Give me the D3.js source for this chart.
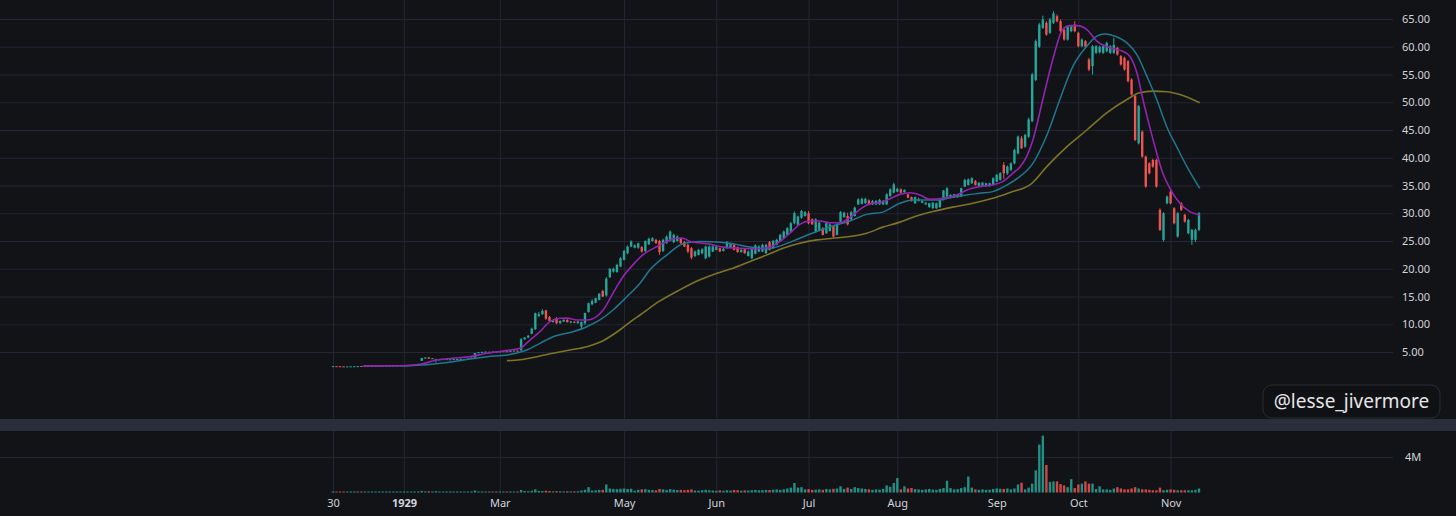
<!DOCTYPE html>
<html>
<head>
<meta charset="utf-8">
<script src="https://cdn.jsdelivr.net/npm/d3@7"></script>
<style>
  html, body { margin: 0; padding: 0; background: #121317; overflow: hidden; }
  svg { display: block; }
  text { font-family: "Noto Sans", "Open Sans", sans-serif; }
</style>
</head>
<body>
<div id="chart"></div>
<script>
// bar data, one row per session: [open, high, low, close]
const ohlc = [
  [2.44,2.46,2.42,2.45],[2.45,2.46,2.43,2.44],[2.43,2.44,2.40,2.42],[2.41,2.42,2.38,2.40],[2.40,2.42,2.38,2.41],
  [2.40,2.42,2.39,2.42],[2.42,2.44,2.41,2.43],[2.44,2.46,2.42,2.45],[2.48,2.50,2.44,2.45],[2.46,2.50,2.45,2.49],
  [2.49,2.51,2.47,2.50],[2.50,2.52,2.48,2.51],[2.50,2.52,2.49,2.51],[2.51,2.53,2.50,2.52],[2.51,2.53,2.50,2.52],
  [2.52,2.54,2.50,2.53],[2.52,2.54,2.51,2.53],[2.53,2.55,2.51,2.54],[2.53,2.56,2.52,2.55],[2.55,2.57,2.53,2.56],
  [2.56,2.58,2.54,2.57],[2.57,2.60,2.55,2.59],[2.59,2.62,2.57,2.61],[2.61,2.66,2.60,2.65],[2.66,2.72,2.64,2.70],
  [3.40,3.95,3.38,3.90],[3.88,4.05,3.85,4.00],[4.02,4.08,3.78,3.82],[3.82,3.92,3.78,3.88],[3.50,3.78,3.08,3.70],
  [3.62,3.70,3.58,3.66],[3.64,3.72,3.60,3.70],[3.68,3.78,3.62,3.72],[3.66,3.72,3.60,3.68],[3.68,3.76,3.64,3.72],
  [3.70,3.76,3.66,3.73],[3.72,3.80,3.68,3.76],[3.72,3.78,3.68,3.74],[3.74,3.84,3.70,3.80],[3.80,4.02,3.78,3.98],
  [3.96,4.85,3.92,4.80],[4.85,5.00,4.80,4.95],[4.95,5.05,4.90,5.02],[5.00,5.10,4.96,5.05],[5.02,5.08,4.96,5.00],
  [5.00,5.10,4.98,5.06],[5.04,5.10,4.98,5.02],[5.04,5.14,5.00,5.10],[5.10,5.18,5.06,5.15],[5.14,5.18,5.04,5.08],
  [5.10,5.24,5.06,5.20],[5.18,5.30,5.14,5.26],[5.24,5.30,5.16,5.20],[5.30,7.50,5.25,7.30],[7.30,7.70,7.20,7.60],
  [7.60,8.00,7.50,7.95],[8.30,9.40,8.20,9.20],[9.10,12.10,9.00,12.00],[11.50,12.20,11.30,11.80],[11.80,12.70,11.70,12.40],
  [12.50,12.60,10.80,11.00],[11.30,11.50,10.40,10.60],[10.40,10.80,10.30,10.70],[11.10,11.30,10.00,10.20],[10.20,10.70,10.10,10.60],
  [10.50,10.90,10.40,10.80],[10.80,10.90,10.30,10.40],[10.30,10.60,10.20,10.50],[10.45,10.55,10.20,10.30],[10.20,10.60,10.10,10.50],
  [9.60,10.50,9.00,10.40],[10.20,12.10,9.90,12.00],[12.20,13.90,12.10,13.80],[13.60,14.50,13.40,14.20],[13.90,14.80,13.80,14.70],
  [14.40,15.60,14.30,15.50],[16.00,16.20,14.90,15.00],[15.20,18.50,15.00,18.20],[18.50,20.10,18.30,20.00],[19.50,20.20,19.30,20.00],
  [19.40,20.90,19.30,20.70],[20.40,22.10,20.30,21.90],[21.60,23.40,21.50,23.20],[22.80,24.20,22.60,24.00],[24.00,25.10,23.90,24.90],
  [23.80,24.40,23.70,24.20],[23.80,24.70,23.60,24.60],[23.90,24.10,22.90,23.10],[23.20,25.10,23.00,25.00],[24.40,25.60,24.30,25.40],
  [25.00,25.70,24.90,25.50],[25.20,25.40,24.50,24.60],[25.00,25.20,22.50,23.00],[23.20,25.40,23.00,25.20],[24.60,26.00,24.50,25.80],
  [25.00,26.90,24.90,26.70],[24.80,26.30,24.60,26.10],[25.00,26.00,24.90,25.80],[25.50,25.70,24.50,24.60],[24.80,25.00,23.90,24.00],
  [24.30,24.50,22.80,23.10],[23.70,23.90,21.70,22.00],[22.30,23.30,22.10,23.10],[22.50,23.60,22.40,23.40],[22.80,23.70,22.60,23.50],
  [21.90,24.20,21.70,24.00],[22.20,24.20,22.00,24.00],[23.10,24.20,23.00,24.00],[23.40,24.10,23.30,24.00],[23.70,23.80,23.00,23.10],
  [23.20,23.80,23.10,23.60],[23.70,25.00,23.60,24.80],[23.90,24.70,23.80,24.50],[24.30,24.50,23.30,23.40],[23.90,24.00,22.90,23.00],
  [23.00,23.60,22.90,23.40],[23.50,23.60,22.70,22.80],[22.30,23.30,22.20,23.10],[21.90,23.90,21.70,23.70],[22.70,24.40,22.60,24.20],
  [23.10,24.20,23.00,24.00],[23.10,24.50,23.00,24.30],[22.80,24.50,22.70,24.30],[24.80,25.00,23.30,23.40],[23.70,25.20,23.60,25.00],
  [24.30,25.40,24.20,25.20],[25.00,26.30,24.90,26.10],[25.50,26.90,25.40,26.70],[26.10,27.50,26.00,27.30],[26.70,28.40,26.60,28.20],
  [28.20,30.30,28.00,30.00],[27.90,29.60,27.80,29.40],[29.20,30.60,29.00,30.40],[29.50,30.40,29.40,30.20],[30.00,30.40,28.00,28.20],
  [28.90,29.10,27.90,28.00],[26.70,29.10,26.50,28.90],[27.00,28.50,26.90,28.30],[27.30,27.50,26.00,26.10],[26.40,28.40,26.30,28.20],
  [26.80,28.20,26.70,28.00],[27.70,27.90,25.60,25.80],[26.10,28.20,26.00,28.00],[28.50,30.40,28.40,30.20],[29.30,30.30,29.20,30.10],
  [29.50,30.10,27.80,28.00],[28.90,30.40,28.80,30.20],[29.50,31.20,29.40,31.00],[31.60,32.70,31.50,32.50],[31.70,32.80,31.60,32.60],
  [31.80,32.80,31.70,32.60],[32.30,32.50,31.40,31.60],[31.60,32.40,31.50,32.20],[31.60,32.40,31.50,32.20],[31.60,32.60,31.50,32.40],
  [31.60,32.40,31.50,32.20],[31.60,33.60,31.50,33.40],[33.10,34.50,33.00,34.30],[33.70,35.50,33.60,35.20],[33.90,34.60,33.80,34.40],
  [34.30,34.50,33.60,33.70],[33.80,34.30,33.70,34.20],[33.40,33.50,32.70,32.80],[32.90,33.00,32.10,32.20],[31.80,33.00,31.70,32.90],
  [32.20,32.80,32.10,32.60],[31.90,32.30,31.80,32.20],[31.60,32.00,31.50,31.90],[31.10,31.90,31.00,31.80],[30.90,32.00,30.80,31.90],
  [30.90,31.90,30.80,31.80],[31.10,32.50,31.00,32.40],[32.40,34.20,32.30,34.10],[33.00,34.70,32.90,34.50],[32.90,33.40,32.80,33.30],
  [32.90,33.50,32.80,33.40],[32.90,33.50,32.80,33.40],[33.00,34.60,32.90,34.50],[34.80,36.20,34.70,36.00],[35.10,36.30,35.00,36.10],
  [35.40,36.50,35.30,36.30],[35.80,36.00,35.00,35.10],[34.90,35.60,34.80,35.50],[34.90,35.60,34.80,35.50],[34.90,35.50,34.80,35.40],
  [34.90,35.50,34.80,35.40],[35.10,36.50,35.00,36.30],[35.70,37.10,35.60,36.90],[36.00,37.40,35.90,37.20],[38.70,39.20,36.20,37.20],
  [37.20,38.60,36.90,38.40],[37.80,39.20,37.60,39.00],[39.00,41.60,38.80,41.40],[40.80,44.00,40.60,43.80],[43.50,43.90,41.60,41.70],
  [42.00,44.30,41.80,44.10],[43.80,47.20,43.60,46.90],[46.60,55.30,46.40,55.00],[54.00,61.30,53.80,61.00],[60.00,64.30,59.80,64.00],
  [63.40,65.60,63.20,64.90],[64.30,64.60,62.00,62.20],[62.50,65.20,62.30,64.90],[64.30,66.40,64.10,66.00],[65.50,65.80,64.40,64.60],
  [64.60,64.90,62.60,62.80],[63.00,63.20,61.10,61.30],[61.30,63.90,61.10,63.70],[62.80,63.90,62.60,63.70],[64.00,64.60,62.60,62.80],
  [62.50,62.70,59.90,60.10],[60.10,61.50,59.90,61.30],[61.00,61.20,59.80,60.00],[57.70,58.00,55.60,55.90],[56.50,60.30,55.00,60.10],
  [58.90,60.30,58.70,60.10],[59.00,60.20,58.80,60.00],[58.90,60.30,58.70,60.10],[59.20,60.90,59.00,60.70],[58.90,60.30,58.70,60.10],
  [58.90,61.60,58.70,60.30],[59.80,60.00,58.40,58.60],[58.30,58.50,56.60,56.80],[58.00,58.20,55.70,55.90],[57.40,57.60,53.60,53.80],
  [54.10,54.30,51.20,51.40],[51.10,51.30,43.00,43.20],[42.60,49.50,42.40,49.30],[44.70,44.90,40.00,40.20],[40.20,40.40,34.60,34.80],
  [39.00,39.20,37.00,37.20],[39.60,39.80,38.20,38.40],[39.60,39.80,34.60,34.80],[30.60,30.90,26.80,27.00],[25.20,30.20,24.90,30.00],
  [31.80,33.20,31.60,33.00],[33.90,34.10,31.60,31.80],[30.90,31.10,28.00,28.20],[25.80,30.20,25.60,30.00],[31.80,32.00,30.40,30.60],
  [29.70,29.90,28.30,28.50],[26.40,29.00,26.20,28.80],[25.20,27.20,24.30,27.00],[25.20,27.20,24.80,27.00],[27.00,30.20,26.80,30.00]
];

// volume per session, millions of shares
const volumes = [
  0.08,0.07,0.09,0.08,0.06,0.08,0.07,0.09,0.10,0.08,
  0.07,0.08,0.06,0.07,0.08,0.07,0.08,0.09,0.07,0.08,
  0.08,0.09,0.10,0.10,0.12,0.18,0.12,0.14,0.10,0.15,
  0.09,0.10,0.08,0.09,0.10,0.08,0.09,0.10,0.09,0.12,
  0.22,0.12,0.10,0.09,0.10,0.08,0.10,0.09,0.10,0.11,
  0.12,0.10,0.11,0.28,0.16,0.14,0.20,0.35,0.18,0.16,
  0.20,0.16,0.12,0.15,0.13,0.12,0.14,0.12,0.13,0.14,
  0.22,0.30,0.60,0.22,0.25,0.28,0.30,0.90,0.45,0.40,
  0.38,0.42,0.45,0.40,0.42,0.20,0.30,0.35,0.38,0.30,
  0.28,0.25,0.40,0.35,0.30,0.38,0.32,0.28,0.30,0.26,
  0.30,0.35,0.22,0.20,0.25,0.30,0.25,0.22,0.20,0.24,
  0.20,0.25,0.22,0.28,0.26,0.20,0.24,0.22,0.25,0.28,
  0.24,0.26,0.30,0.28,0.32,0.35,0.30,0.36,0.45,0.55,
  1.07,0.55,0.60,0.35,0.38,0.30,0.32,0.35,0.30,0.40,
  0.35,0.42,0.45,0.70,0.40,0.55,0.40,0.60,0.50,0.45,
  0.40,0.35,0.30,0.35,0.32,0.40,0.80,0.65,1.07,1.63,
  0.35,0.70,0.45,0.50,0.38,0.35,0.30,0.35,0.40,0.32,
  0.30,0.40,0.50,1.33,0.50,0.35,0.38,0.50,0.60,1.80,
  0.55,0.35,0.30,0.35,0.30,0.32,0.40,0.45,0.42,0.40,
  0.45,0.35,0.45,0.90,1.10,0.35,0.55,1.00,2.50,5.40,
  6.40,3.10,1.20,1.25,1.25,0.95,0.80,0.60,1.50,0.50,
  0.90,1.00,1.25,1.00,1.00,0.40,0.70,0.35,0.35,0.30,
  0.45,0.60,0.45,0.35,0.35,0.45,0.60,0.45,0.35,0.35,
  0.30,0.25,0.25,0.55,0.25,0.30,0.35,0.30,0.25,0.25,
  0.25,0.25,0.25,0.30,0.45
];

// moving averages: [bar index, value]
const maFast = [
  [8.5,2.50],[19.7,2.52],[24.5,2.78],[29.3,3.56],[33.8,3.86],[38.6,4.16],[43.4,4.76],[47.9,5.18],
  [52.7,5.66],[55.5,7.16],[58.3,8.66],[61.1,10.46],[63.9,11.07],[65.9,11.1],[68.7,10.77],[71.5,10.77],
  [73.2,11.0],[76.1,12.57],[78.9,15.6],[81.7,18.57],[84.5,20.7],[87.3,22.5],[91.3,24.0],[94.1,24.9],
  [96.9,25.5],[98.6,25.5],[100.6,24.9],[105.4,24.5],[109.9,23.9],[114.6,23.7],[119.4,23.6],[123.1,23.9],
  [125.9,24.9],[128.7,26.4],[131.5,28.0],[134.4,28.6],[137.2,28.6],[140,28.3],[142.8,28.3],[145.6,29.2],
  [148.5,30.7],[151.3,31.7],[154.1,31.9],[156.9,32.6],[159.7,33.4],[162.5,33.7],[165.4,33.3],[168.2,32.5],
  [171.8,32.7],[175.8,33.3],[178.6,34.2],[182.3,34.8],[185.9,35.1],[188.7,35.7],[191.5,37.2],[193.5,38.3],
  [195.5,40.3],[197.2,43.2],[200,50.5],[202.8,57.7],[205.6,63.1],[207.6,63.8],[209.6,63.8],[212.4,63.1],
  [215.2,61.0],[218.9,59.8],[222.5,59.2],[224.5,58.3],[226.5,55.3],[228.2,50.5],[230.1,45.6],[232.1,40.8],
  [233.8,37.2],[235.8,34.5],[238.6,31.8],[241.4,30.3],[244.2,29.7]
];
const maMid = [
  [18.9,2.50],[24.5,2.65],[33.8,3.26],[43.4,4.16],[49,4.46],[54.6,5.36],[58.3,6.56],[62,7.76],
  [67.6,8.66],[71.5,9.56],[75.2,10.77],[78.9,12.57],[82.8,14.96],[86.5,17.4],[89.3,19.8],[94.1,22.5],
  [98.6,24.5],[103.4,24.9],[108.2,24.8],[112.7,24.5],[117.5,23.9],[122.3,23.6],[126.8,24.3],[131.5,25.5],
  [136.3,26.7],[140.8,27.7],[145.6,28.6],[150.4,29.8],[154.9,30.2],[159.7,31.8],[163.4,32.4],[167.3,32.4],
  [171,32.4],[174.6,32.9],[178.6,33.3],[182.3,33.6],[185.9,33.9],[189.9,35.1],[193.5,36.6],[197.2,39.0],
  [201.1,44.0],[204.8,50.5],[208.5,56.5],[212.4,60.1],[215.2,61.9],[217.5,62.3],[220.3,61.9],[223.7,60.7],
  [226.5,58.6],[229.3,54.7],[232.1,50.5],[234.9,45.6],[237.7,42.0],[240.6,38.4],[244.2,34.5]
];
const maSlow = [
  [49,3.44],[52.7,3.6],[57.5,4.16],[62,4.76],[66.8,5.36],[71.5,5.96],[76.1,7.04],[80.8,8.96],
  [84.5,10.77],[86.5,11.67],[92.1,14.2],[97.7,16.2],[103.4,18.0],[108.2,19.2],[112.7,20.1],[117.5,21.3],
  [122.3,22.5],[126.8,23.7],[131.5,24.6],[136.3,25.2],[140.8,25.5],[145.6,25.8],[150.4,26.4],[154.9,27.5],
  [159.7,28.4],[163.4,29.3],[169,30.3],[174.6,31.1],[180.3,31.8],[185.9,32.7],[191.5,33.9],[195.5,34.8],
  [196.9,35.4],[201.1,38.4],[206.8,42.0],[212.4,45.0],[218,48.1],[223.7,50.5],[227.3,51.7],[231,52.0],
  [234.9,51.9],[238.6,51.4],[244.2,49.9]
];

// axis ticks
const priceTicks = [5,10,15,20,25,30,35,40,45,50,55,60,65];
const volumeTicks = [4];
const monthTickBars = [0, 20, 47, 82, 108, 134, 159, 187, 210, 236];
const monthTickLabels = ["30", "1929", "Mar", "May", "Jun", "Jul", "Aug", "Sep", "Oct", "Nov"];

// layout
const W = 1456, H = 516;
const plotRight = 1393;
const mainTop = 0, mainBottom = 419;
const sepTop = 419, sepBottom = 431;
const volTop = 431, volBottom = 494;

const upColor = "#26a69a", downColor = "#ef5350";
const gridColor = "#242535";
const textColor = "#d1d4dc";

const svg = d3.select("#chart").append("svg")
    .attr("width", W)
    .attr("height", H)
    .attr("viewBox", "0 0 " + W + " " + H);

svg.append("rect").attr("width", W).attr("height", H).attr("fill", "#121317");

const x = d3.scaleLinear().domain([0, ohlc.length - 1]).range([333, 1199]);
const y = d3.scaleLinear().domain([5, 65]).range([352, 19]);
const yv = d3.scaleLinear().domain([0, 4]).range([492.5, 457]);

// grid: horizontal
svg.append("g")
    .call(d3.axisRight(y).tickValues(priceTicks).tickSize(plotRight).tickFormat(""))
    .call(g => g.select(".domain").remove())
    .call(g => g.selectAll("line").attr("stroke", gridColor));
svg.append("g")
    .call(d3.axisRight(yv).tickValues(volumeTicks).tickSize(plotRight).tickFormat(""))
    .call(g => g.select(".domain").remove())
    .call(g => g.selectAll("line").attr("stroke", gridColor));

// grid: vertical, one per pane
function vgrid(top, bottom){
    svg.append("g")
        .attr("transform", "translate(0," + bottom + ")")
        .call(d3.axisBottom(x).tickValues(monthTickBars).tickSize(-(bottom - top)).tickFormat(""))
        .call(g => g.select(".domain").remove())
        .call(g => g.selectAll("line").attr("stroke", gridColor));
}
vgrid(mainTop, mainBottom);
vgrid(volTop, volBottom);

// pane separator
svg.append("rect")
    .attr("x", 0).attr("y", sepTop)
    .attr("width", W).attr("height", sepBottom - sepTop)
    .attr("fill", "#2a2e3b");

// volume bars
const bw = 2.4;
svg.append("g").selectAll("rect")
    .data(volumes)
    .join("rect")
    .attr("x", (d, i) => x(i) - bw / 2)
    .attr("width", bw)
    .attr("y", d => Math.min(yv(d), yv(0) - 1))
    .attr("height", d => Math.max(1, yv(0) - yv(d)))
    .attr("fill", (d, i) => ohlc[i][3] >= ohlc[i][0] ? upColor : downColor)
    .attr("opacity", 0.85);

// candles
const candles = svg.append("g").selectAll("g")
    .data(ohlc)
    .join("g")
    .attr("fill", d => d[3] >= d[0] ? upColor : downColor)
    .attr("stroke", d => d[3] >= d[0] ? upColor : downColor);

candles.append("line")
    .attr("x1", (d, i) => x(i)).attr("x2", (d, i) => x(i))
    .attr("y1", d => y(d[1])).attr("y2", d => y(d[2]))
    .attr("stroke-width", 1);

candles.append("rect")
    .attr("stroke", "none")
    .attr("x", (d, i) => x(i) - bw / 2)
    .attr("width", bw)
    .attr("y", d => y(Math.max(d[0], d[3])))
    .attr("height", d => Math.max(1, Math.abs(y(d[0]) - y(d[3]))));

// moving averages
const maLine = d3.line()
    .x(d => x(d[0]))
    .y(d => y(d[1]))
    .curve(d3.curveMonotoneX);

svg.append("path").datum(maSlow).attr("d", maLine)
    .attr("fill", "none").attr("stroke", "#7e7428").attr("stroke-width", 1.6);
svg.append("path").datum(maMid).attr("d", maLine)
    .attr("fill", "none").attr("stroke", "#1f7890").attr("stroke-width", 1.5);
svg.append("path").datum(maFast).attr("d", maLine)
    .attr("fill", "none").attr("stroke", "#9224b0").attr("stroke-width", 1.6);

// price scale labels
svg.append("g")
    .attr("transform", "translate(" + (plotRight + 2) + ",0)")
    .call(d3.axisRight(y).tickValues(priceTicks).tickSize(0).tickPadding(7).tickFormat(d3.format(".2f")))
    .call(g => g.select(".domain").remove())
    .call(g => g.selectAll("text").attr("fill", textColor).attr("font-size", 11).attr("font-family", "Noto Sans"));

svg.append("g")
    .attr("transform", "translate(" + (plotRight + 2) + ",0)")
    .call(d3.axisRight(yv).tickValues(volumeTicks).tickSize(0).tickPadding(10).tickFormat(d => d + "M"))
    .call(g => g.select(".domain").remove())
    .call(g => g.selectAll("text").attr("fill", textColor).attr("font-size", 11).attr("font-family", "Noto Sans"));

// time scale labels
svg.append("g")
    .attr("transform", "translate(0," + volBottom + ")")
    .call(d3.axisBottom(x).tickValues(monthTickBars).tickSize(0).tickPadding(5)
        .tickFormat((d, i) => monthTickLabels[i]))
    .call(g => g.select(".domain").remove())
    .call(g => g.selectAll("text")
        .attr("fill", textColor)
        .attr("font-size", 11)
        .attr("font-family", "Noto Sans")
        .attr("font-weight", (d, i) => monthTickLabels[i] === "1929" ? "bold" : "normal"));

// handle badge
const badge = svg.append("g").attr("transform", "translate(1263,385)");
badge.append("rect")
    .attr("width", 177).attr("height", 33).attr("rx", 9)
    .attr("fill", "#101115").attr("stroke", "#2b2d34").attr("stroke-width", 1);
badge.append("text")
    .attr("x", 88.5).attr("y", 23)
    .attr("text-anchor", "middle")
    .attr("fill", "#e6e6e6")
    .attr("font-size", 19)
    .attr("font-family", "Noto Sans")
    .text("@lesse_jivermore");
</script>
</body>
</html>
